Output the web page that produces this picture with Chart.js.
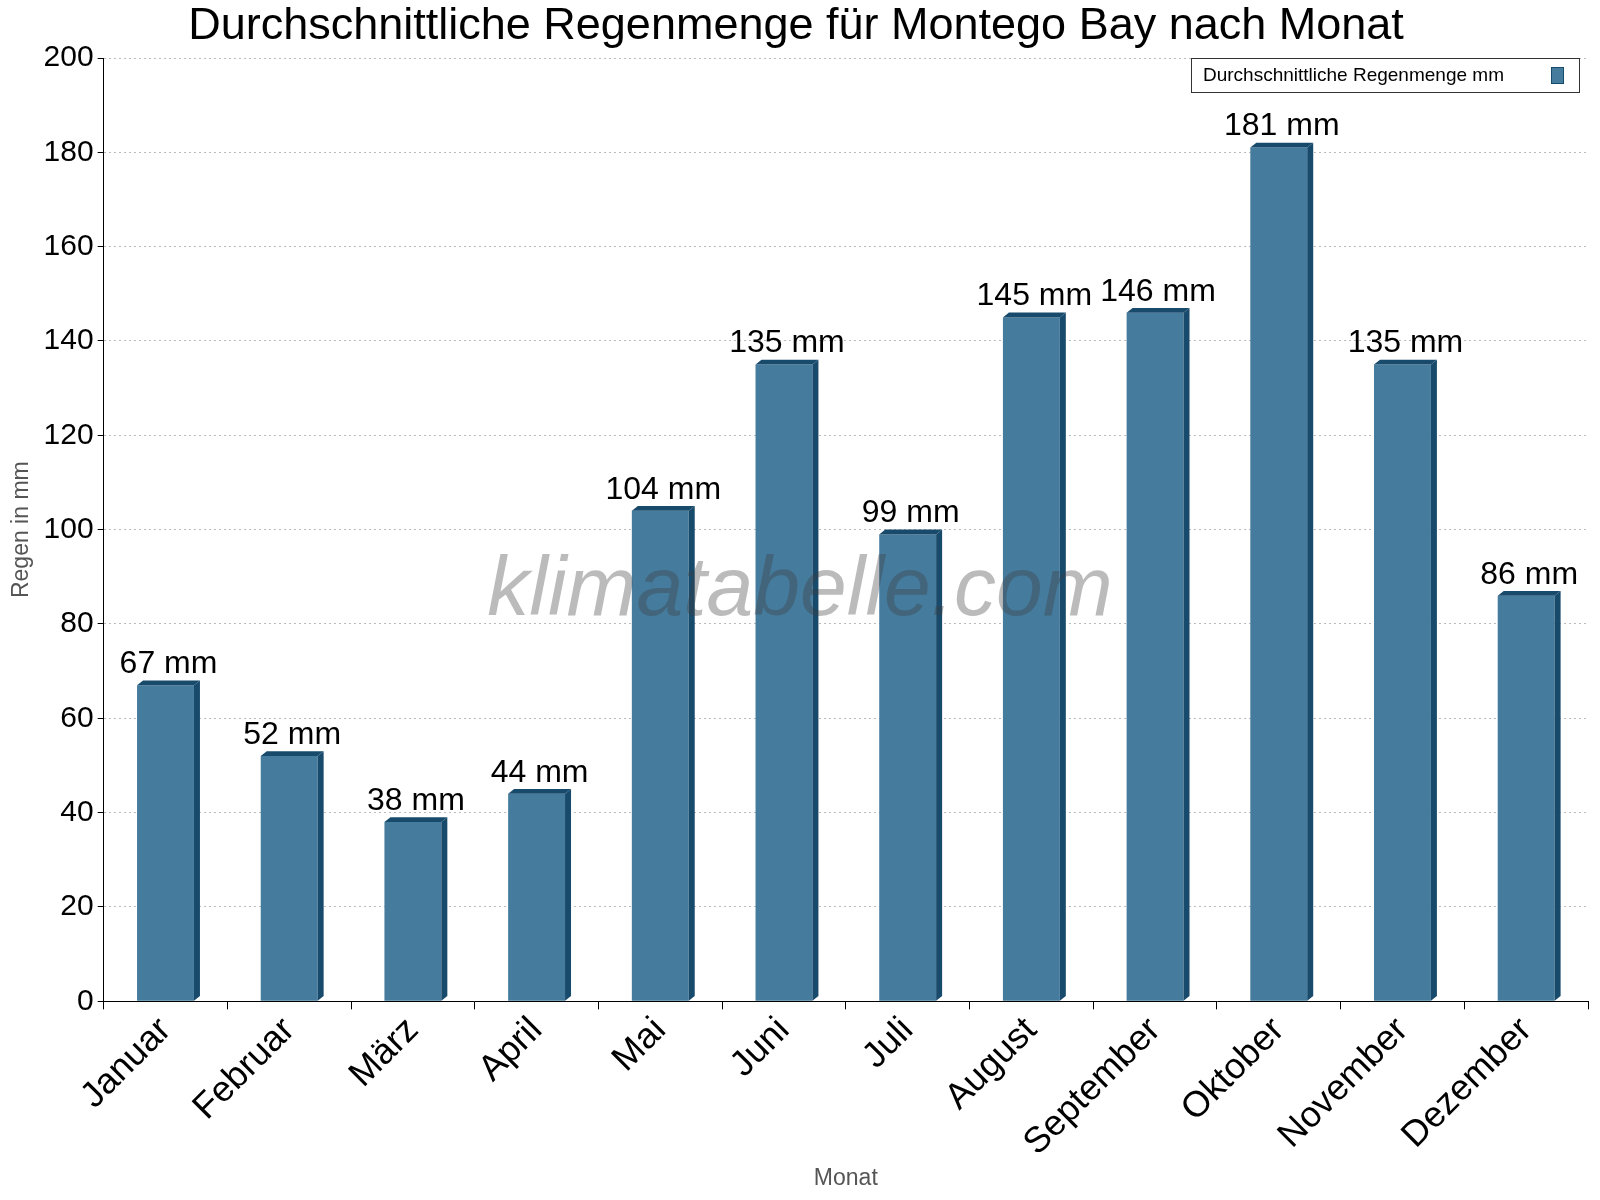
<!DOCTYPE html>
<html><head><meta charset="utf-8">
<script src="https://cdn.jsdelivr.net/npm/chart.js@4/dist/chart.umd.min.js"></script>
<style>html,body{margin:0;padding:0;background:#fff}#w{width:1600px;height:1200px}</style>
</head><body><div id="w"><canvas id="c"></canvas></div>
<script>
const months = ["Januar","Februar","März","April","Mai","Juni","Juli","August","September","Oktober","November","Dezember"];
const rain = [67,52,38,44,104,135,99,145,146,181,135,86];
const yTicks = [0,20,40,60,80,100,120,140,160,180,200];
const FONT = "'Liberation Sans', Arial, sans-serif";

const bar3d = {
  id:'bar3d',
  afterDatasetsDraw(chart){
    const {ctx} = chart;
    const meta = chart.getDatasetMeta(0);
    const d = 6;
    ctx.save();
    meta.data.forEach((b,i)=>{
      const l = b.x - b.width/2, r = b.x + b.width/2, t = b.y, base = b.base;
      ctx.fillStyle = "#184a6c";
      ctx.beginPath();
      ctx.moveTo(r,t); ctx.lineTo(r+d,t-d*0.8); ctx.lineTo(r+d,base-d*0.8); ctx.lineTo(r,base); ctx.closePath(); ctx.fill();
      ctx.beginPath();
      ctx.moveTo(l,t); ctx.lineTo(l+d,t-d*0.8); ctx.lineTo(r+d,t-d*0.8); ctx.lineTo(r,t); ctx.closePath(); ctx.fill();
    });
    ctx.font = "italic 84px "+FONT;
    ctx.fillStyle = "rgba(60,60,60,0.35)";
    ctx.textAlign = "center"; ctx.textBaseline = "middle";
    ctx.fillText("klimatabelle.com", 800, 592);
    meta.data.forEach((b,i)=>{
      ctx.fillStyle = "#000"; ctx.font = "32px "+FONT;
      ctx.textAlign = "center"; ctx.textBaseline = "bottom";
      ctx.fillText(rain[i]+" mm", b.x+3, b.y-5);
    });
    // legend
    const lx=1191, ly=58, lw=388, lh=34;
    ctx.fillStyle="#fff"; ctx.fillRect(lx,ly,lw,lh);
    ctx.strokeStyle="#333"; ctx.lineWidth=1; ctx.strokeRect(lx+0.5,ly+0.5,lw,lh);
    ctx.fillStyle="#000"; ctx.font="19px "+FONT; ctx.textAlign="left"; ctx.textBaseline="middle";
    ctx.fillText("Durchschnittliche Regenmenge mm", lx+12, ly+lh/2+1);
    ctx.fillStyle="#457b9d"; ctx.fillRect(lx+lw-28, ly+9, 12, 16);
    ctx.strokeStyle="#184a6c"; ctx.strokeRect(lx+lw-28+0.5, ly+9.5, 12, 16);
    ctx.restore();
  }
};

new Chart(document.getElementById('c'), {
  type:'bar',
  data:{labels:months, datasets:[{data:rain, backgroundColor:"#457b9d", barPercentage:0.92, categoryPercentage:0.5}]},
  options:{
    responsive:true, maintainAspectRatio:false, animation:false,
    layout:{padding:{left:4,right:12,top:0,bottom:4}},
    plugins:{legend:{display:false}, tooltip:{enabled:false},
      title:{display:true, text:"Durchschnittliche Regenmenge für Montego Bay nach Monat", color:"#000", font:{family:FONT,size:45,weight:'normal'}, padding:{top:0,bottom:4}}},
    scales:{
      y:{min:0,max:200, afterBuildTicks(ax){ax.ticks=yTicks.map(v=>({value:v}));},
        ticks:{color:"#000", font:{family:FONT,size:30}, padding:4},
        grid:{color:"#bbb", drawTicks:true, tickLength:6, tickColor:"#000"}, border:{color:"#000",dash:[2,3]},
        title:{display:true,text:"Regen in mm",color:"#555",font:{family:FONT,size:23}}},
      x:{ticks:{color:"#000", font:{family:FONT,size:36}, maxRotation:45, minRotation:45, padding:0},
        grid:{drawOnChartArea:false, offset:true, tickLength:8, color:"#000"}, border:{color:"#000"},
        title:{display:true,text:"Monat",color:"#555",font:{family:FONT,size:23},padding:{top:0}}}
    }
  },
  plugins:[bar3d]
});
</script></body></html>
